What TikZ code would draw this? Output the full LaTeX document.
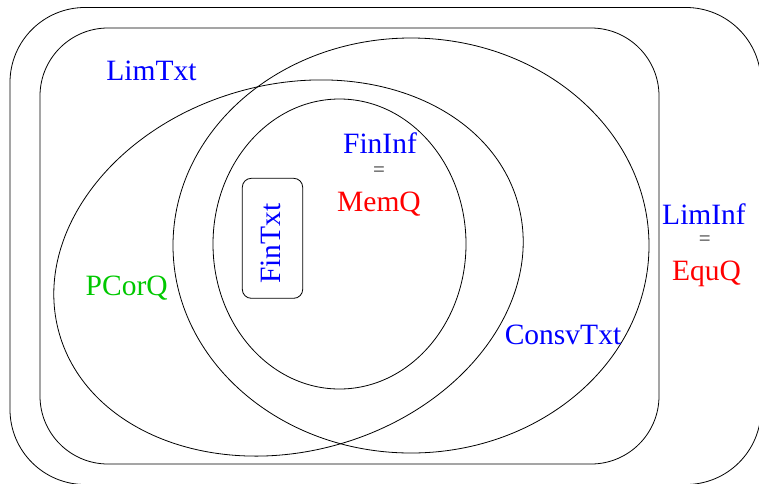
\documentclass[tikz,border=0pt]{standalone}
\usepackage{fontspec}
\setmainfont{Liberation Serif}
\usepackage{xcolor}
\usepackage{tikz}

\definecolor{pcgreen}{RGB}{0,200,0}

\begin{document}
\begin{tikzpicture}[x=1pt, y=-1pt, line width=0.8pt,
  setname/.style={font=\fontsize{29.5}{30}\selectfont, anchor=base, inner sep=0pt},
  eqsign/.style={font=\fontsize{21}{21}\selectfont, anchor=base, inner sep=0pt, text=black!80}]
\useasboundingbox (0,0) rectangle (759,483);
% the two outer classes
\draw[rounded corners=75pt] (10,7.5) rectangle (761,484.5);
\draw[rounded corners=68pt] (40,28) rectangle (659,464);
% ovals
\draw[rotate around={16:(288.5,268)}] (288.5,268) ellipse [x radius=238.4, y radius=183.3];
\draw (411,245.5) ellipse [x radius=238, y radius=207.5];
\draw (339.5,244) ellipse [x radius=126.5, y radius=145];
\draw[rounded corners=9pt] (242.3,178.3) rectangle (302.7,298.3);

% labels
\node[setname, blue] (limtxt) at (151.5,80) {LimTxt};
\node[setname, pcgreen] (pcorq) at (126.7,295) {PCorQ};
\node[setname, blue] (consvtxt) at (563,344) {ConsvTxt};
\node[setname, blue, rotate=90] (fintxt) at (280,243.5) {FinTxt};

\node[setname, blue] (fininf) at (380,153) {FinInf};
\node[eqsign] (eqa) at (379,176.7) {=};
\node[setname, red] (memq) at (379,211.7) {MemQ};

\node[setname, blue] (liminf) at (704,224) {LimInf};
\node[eqsign] (eqb) at (704.7,245) {=};
\node[setname, red] (equq) at (706.5,280) {EquQ};
\end{tikzpicture}
\end{document}
